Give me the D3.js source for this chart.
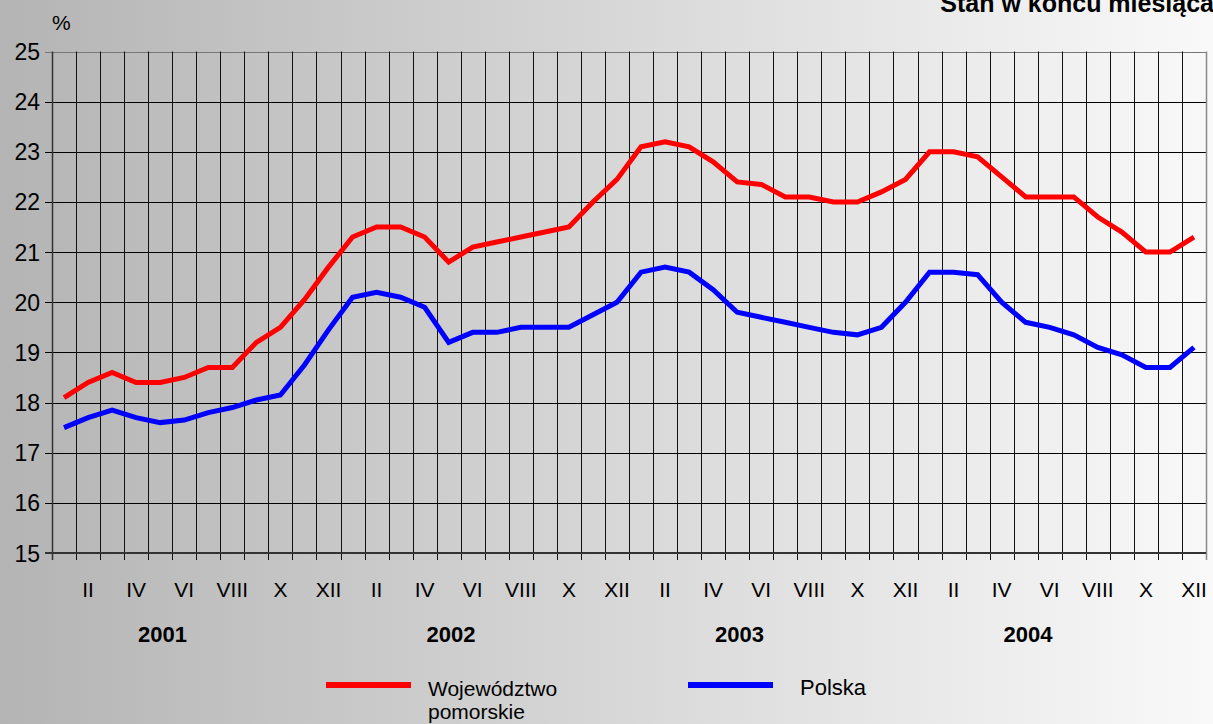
<!DOCTYPE html>
<html><head><meta charset="utf-8">
<script src="https://cdn.jsdelivr.net/npm/d3@7"></script>
<style>html,body{margin:0;padding:0;overflow:hidden}svg{display:block}</style>
</head><body>
<script>
const years = ["2001","2002","2003","2004"];
const monthNames = ["I","II","III","IV","V","VI","VII","VIII","IX","X","XI","XII"];
const tickMonths = ["II","IV","VI","VIII","X","XII"];
const yTicks = [15,16,17,18,19,20,21,22,23,24,25];
const pomorskie = [18.1,18.4,18.6,18.4,18.4,18.5,18.7,18.7,19.2,19.5,20.05,20.7,
  21.3,21.5,21.5,21.3,20.8,21.1,21.2,21.3,21.4,21.5,22.0,22.45,
  23.1,23.2,23.1,22.8,22.4,22.35,22.1,22.1,22.0,22.0,22.2,22.45,
  23.0,23.0,22.9,22.5,22.1,22.1,22.1,21.7,21.4,21.0,21.0,21.3];
const polska = [17.5,17.7,17.85,17.7,17.6,17.65,17.8,17.9,18.05,18.15,18.75,19.45,
  20.1,20.2,20.1,19.9,19.2,19.4,19.4,19.5,19.5,19.5,19.75,20.0,
  20.6,20.7,20.6,20.25,19.8,19.7,19.6,19.5,19.4,19.35,19.5,20.0,
  20.6,20.6,20.55,20.0,19.6,19.5,19.35,19.1,18.95,18.7,18.7,19.1];
const seriesNames = ["Województwo pomorskie","Polska"];
const seriesColors = ["#ff0000","#0000ff"];
const title = "Stan w końcu miesiąca";
const unit = "%";

const W = 1213, H = 724;
const m = {left:52, right:1206, top:51.5, bottom:553};
const months = [];
years.forEach(y => monthNames.forEach(mn => months.push(y + "-" + mn)));

const svg = d3.select("body").append("svg").attr("width", W).attr("height", H);
const defs = svg.append("defs");
const grad = defs.append("linearGradient").attr("id","bg").attr("x1","0").attr("y1","0").attr("x2","1").attr("y2","0");
grad.append("stop").attr("offset","0").attr("stop-color","#b4b4b4");
grad.append("stop").attr("offset","0.33").attr("stop-color","#cbcbcb");
grad.append("stop").attr("offset","0.66").attr("stop-color","#e2e2e2");
grad.append("stop").attr("offset","1").attr("stop-color","#f9f9f9");
svg.append("rect").attr("width",W).attr("height",H).attr("fill","url(#bg)");

const x = d3.scaleBand().domain(months).range([m.left, m.right]);
const y = d3.scaleLinear().domain([15,25]).range([m.bottom, m.top]);
const font = "'Liberation Sans', Arial, sans-serif";

// grid
const g = svg.append("g");
g.selectAll(".hg").data(yTicks.slice(1)).join("line")
  .attr("x1", m.left - 7).attr("x2", m.right)
  .attr("y1", d => Math.round(y(d)) + 0.5).attr("y2", d => Math.round(y(d)) + 0.5)
  .attr("stroke", d => d === 25 ? "#777" : "#000").attr("stroke-width", 1);
g.selectAll(".vg").data(months.slice(1)).join("line")
  .attr("x1", d => Math.round(x(d)) + 0.5).attr("x2", d => Math.round(x(d)) + 0.5)
  .attr("y1", m.top).attr("y2", m.bottom + 7)
  .attr("stroke", "#111").attr("stroke-width", 1);
g.append("line").attr("x1", m.left + 0.5).attr("x2", m.left + 0.5).attr("y1", m.top).attr("y2", m.bottom + 7).attr("stroke","#333").attr("stroke-width",1.5);
g.append("line").attr("x1", m.right + 0.5).attr("x2", m.right + 0.5).attr("y1", m.top).attr("y2", m.bottom + 7).attr("stroke","#888").attr("stroke-width",1.5);
g.append("line").attr("x1", m.left - 7).attr("x2", m.right).attr("y1", m.bottom).attr("y2", m.bottom).attr("stroke","#333").attr("stroke-width",2);

// y labels
svg.append("g").selectAll("text").data(yTicks).join("text")
  .attr("x", 40).attr("y", d => y(d) + 8.5)
  .attr("text-anchor","end").attr("font-family", font).attr("font-size", 23).attr("fill","#000")
  .text(d => d);

// x month labels
const labelMonths = months.filter(d => tickMonths.includes(d.split("-")[1]));
svg.append("g").selectAll("text").data(labelMonths).join("text")
  .attr("x", d => x(d) + x.bandwidth()/2).attr("y", 597)
  .attr("text-anchor","middle").attr("font-family", font).attr("font-size", 21).attr("fill","#000")
  .text(d => d.split("-")[1]);

// year labels
svg.append("g").selectAll("text").data(years).join("text")
  .attr("x", d => x(d + "-V") + x.bandwidth()*0.6).attr("y", 642)
  .attr("text-anchor","middle").attr("font-family", font).attr("font-weight","bold").attr("font-size", 22).attr("fill","#000")
  .text(d => d);

// lines
const line = d3.line().x((d,i) => x(months[i]) + x.bandwidth()/2).y(d => y(d));
[pomorskie, polska].forEach((s,i) => {
  svg.append("path").datum(s).attr("d", line).attr("fill","none")
    .attr("stroke", seriesColors[i]).attr("stroke-width", 5).attr("stroke-linejoin","miter");
});

// unit & title
svg.append("text").attr("x", 52).attr("y", 30).attr("font-family", font).attr("font-size", 21).text(unit);
svg.append("text").attr("x", 1214).attr("y", 12).attr("text-anchor","end").attr("font-family", font)
  .attr("font-weight","bold").attr("font-size", 25).text(title);

// legend
const leg = svg.append("g");
const legX = [326, 688];
seriesNames.forEach((n,i) => {
  leg.append("line").attr("x1", legX[i]).attr("x2", legX[i] + 85).attr("y1", 685).attr("y2", 685)
    .attr("stroke", seriesColors[i]).attr("stroke-width", 6);
});
const t1 = leg.append("text").attr("font-family", font).attr("font-size", 21).attr("fill","#000");
t1.append("tspan").attr("x", 428).attr("y", 696).text("Województwo");
t1.append("tspan").attr("x", 428).attr("y", 719).text("pomorskie");
leg.append("text").attr("x", 800).attr("y", 695).attr("font-family", font).attr("font-size", 22).text(seriesNames[1]);
</script>
</body></html>
